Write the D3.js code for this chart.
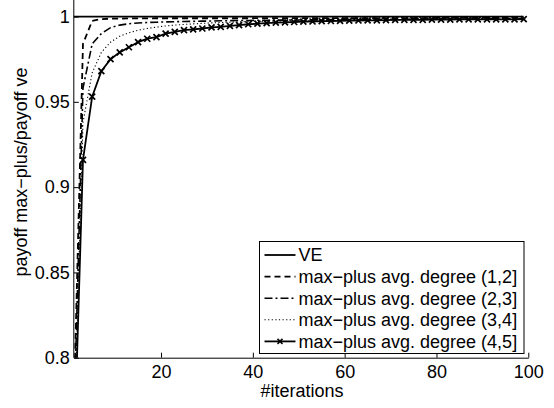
<!DOCTYPE html>
<html>
<head>
<meta charset="utf-8">
<script src="https://cdn.jsdelivr.net/npm/d3@7"></script>
<style>
  html, body { margin: 0; padding: 0; background: #fff; }
  svg { display: block; font-family: "Liberation Sans", Arial, Helvetica, sans-serif; }
</style>
</head>
<body>
<svg id="chart" width="554" height="408"></svg>
<script>
// Iterations at which each run was sampled
const iterations = [1,3,5,7,9,11,13,15,17,19,21,23,25,27,29,31,33,35,37,39,
  41,43,45,47,49,51,53,55,57,59,61,63,65,67,69,71,73,75,77,79,
  81,83,85,87,89,91,93,95,97,99];

// Payoff ratio max-plus / VE, one array per average-degree group
const veRatio = [1,1,1,1,1,1,1,1,1,1,1,1,1,1,1,1,1,1,1,1,
  1,1,1,1,1,1,1,1,1,1,1,1,1,1,1,1,1,1,1,1,
  1,1,1,1,1,1,1,1,1,1];
const degree12 = [0.770,0.984,0.9975,0.9985,0.9988,0.9988,0.9989,0.9989,0.9989,0.999,
  0.999,0.999,0.999,0.999,0.999,0.999,0.999,0.999,0.999,0.999,
  0.9991,0.9991,0.9991,0.9991,0.9991,0.9991,0.9991,0.9991,0.9991,0.9991,
  0.9991,0.9991,0.9991,0.9991,0.9991,0.9991,0.9991,0.9991,0.9991,0.9991,
  0.9992,0.9992,0.9992,0.9992,0.9992,0.9992,0.9992,0.9992,0.9992,0.9992];
const degree23 = [0.760,0.958,0.984,0.990,0.9935,0.995,0.9958,0.9962,0.9965,0.9967,
  0.9969,0.997,0.9971,0.9972,0.9973,0.9974,0.9975,0.9976,0.9977,0.9977,
  0.9978,0.9978,0.9979,0.9979,0.998,0.998,0.9981,0.9981,0.9982,0.9982,
  0.9982,0.9983,0.9983,0.9983,0.9984,0.9984,0.9984,0.9985,0.9985,0.9985,
  0.9985,0.9986,0.9986,0.9986,0.9986,0.9987,0.9987,0.9987,0.9987,0.9987];
const degree34 = [0.750,0.938,0.967,0.979,0.985,0.9885,0.9905,0.992,0.993,0.9938,
  0.9945,0.995,0.9954,0.9957,0.996,0.9963,0.9965,0.9967,0.9969,0.997,
  0.9971,0.9972,0.9973,0.9974,0.9975,0.9976,0.9977,0.9977,0.9978,0.9979,
  0.9979,0.998,0.998,0.9981,0.9981,0.9982,0.9982,0.9982,0.9983,0.9983,
  0.9983,0.9984,0.9984,0.9984,0.9984,0.9985,0.9985,0.9985,0.9985,0.9985];
const degree45 = [0.738,0.916,0.953,0.968,0.975,0.979,0.982,0.985,0.987,0.988,
  0.990,0.991,0.992,0.9925,0.993,0.9936,0.994,0.9945,0.995,0.9955,
  0.9958,0.9961,0.9964,0.9966,0.9968,0.997,0.9971,0.9973,0.9974,0.9975,
  0.9976,0.9977,0.9978,0.9978,0.9979,0.998,0.998,0.9981,0.9981,0.9982,
  0.9982,0.9982,0.9983,0.9983,0.9983,0.9984,0.9984,0.9984,0.9984,0.9985];

const seriesNames = ["VE", "max\u2212plus avg. degree (1,2]", "max\u2212plus avg. degree (2,3]",
  "max\u2212plus avg. degree (3,4]", "max\u2212plus avg. degree (4,5]"];
const xTicks = [20, 40, 60, 80, 100];
const yTicks = [0.8, 0.85, 0.9, 0.95, 1];
const yTickLabels = ["0.8", "0.85", "0.9", "0.95", "1"];

const styles = [
  { dash: null,        width: 1.8, marker: false },
  { dash: "6,4",       width: 1.8, marker: false },
  { dash: "8,3,2,3",   width: 1.6, marker: false },
  { dash: "1.2,2.4",   width: 1.1, marker: false },
  { dash: null,        width: 1.8, marker: true }
];
const seriesValues = [veRatio, degree12, degree23, degree34, degree45];

const svg = d3.select("#chart");
const plotLeft = 73.8, plotRight = 528.3, plotTop = -0.5, plotBottom = 357.7;

const x = d3.scaleLinear().domain([1, 100]).range([plotLeft, plotRight]);
const y = d3.scaleLinear().domain([0.8, 1.01]).range([plotBottom, plotTop]);

svg.append("defs").append("clipPath").attr("id", "plotClip")
  .append("rect").attr("x", plotLeft).attr("y", 0)
  .attr("width", plotRight - plotLeft).attr("height", plotBottom);

const plot = svg.append("g").attr("clip-path", "url(#plotClip)");
const line = d3.line().x((d, i) => x(iterations[i])).y(d => y(d));

// Draw from the back (slowest convergence) to the front (VE)
for (let s = seriesValues.length - 1; s >= 0; s--) {
  const st = styles[s];
  plot.append("path")
    .datum(seriesValues[s])
    .attr("d", line)
    .attr("fill", "none")
    .attr("stroke", "#000")
    .attr("stroke-width", st.width)
    .attr("stroke-dasharray", st.dash);
  if (st.marker) {
    plot.selectAll(null)
      .data(seriesValues[s])
      .enter().append("path")
      .attr("transform", (d, i) => `translate(${x(iterations[i])},${y(d)})`)
      .attr("d", "M-3,-3L3,3M-3,3L3,-3")
      .attr("stroke", "#000")
      .attr("stroke-width", 1.7);
  }
}

// Axes: MATLAB-style inward ticks, no box
const xAxis = d3.axisBottom(x).tickValues(xTicks).tickSizeInner(-5).tickSizeOuter(0).tickPadding(8);
const yAxis = d3.axisLeft(y).tickValues(yTicks).tickSizeInner(-5).tickSizeOuter(0).tickPadding(4)
  .tickFormat((d, i) => yTickLabels[i]);

const gx = svg.append("g").attr("transform", `translate(0,${plotBottom})`).call(xAxis);
const gy = svg.append("g").attr("transform", `translate(${plotLeft},0)`).call(yAxis);
[gx, gy].forEach(g => {
  g.select(".domain").attr("stroke", "#000").attr("stroke-width", 1);
  g.selectAll(".tick line").attr("stroke", "#000").attr("stroke-width", 1);
  g.selectAll(".tick text").attr("fill", "#000").attr("font-size", 18)
    .attr("font-family", "Liberation Sans, Arial, sans-serif");
});
gx.selectAll(".tick text").attr("dy", "0.71em");
gy.select(".domain").attr("d", `M0,${plotBottom}V0`);

svg.append("text")
  .attr("x", (plotLeft + plotRight) / 2 + 1).attr("y", 397)
  .attr("text-anchor", "middle").attr("font-size", 18)
  .text("#iterations");

svg.append("text")
  .attr("transform", `translate(27,172) rotate(-90)`)
  .attr("text-anchor", "middle").attr("font-size", 18)
  .text("payoff max\u2212plus/payoff ve");

// Legend
const lg = svg.append("g");
const lgX = 259.5, lgY = 241.5, lgW = 264.5, lgH = 112, rowH = 21.6;
lg.append("rect").attr("x", lgX).attr("y", lgY).attr("width", lgW).attr("height", lgH)
  .attr("fill", "#fff").attr("stroke", "#000").attr("stroke-width", 1);
seriesNames.forEach((name, i) => {
  const cy = lgY + 13.5 + i * rowH;
  const st = styles[i];
  lg.append("line")
    .attr("x1", lgX + 5).attr("x2", lgX + 36).attr("y1", cy).attr("y2", cy)
    .attr("stroke", "#000").attr("stroke-width", st.width)
    .attr("stroke-dasharray", st.dash);
  if (st.marker) {
    lg.append("path")
      .attr("transform", `translate(${lgX + 20.5},${cy})`)
      .attr("d", "M-2.5,-2.5L2.5,2.5M-2.5,2.5L2.5,-2.5")
      .attr("stroke", "#000").attr("stroke-width", 1.5);
  }
  lg.append("text")
    .attr("x", lgX + 39).attr("y", cy).attr("dy", "0.35em")
    .attr("font-size", 18)
    .text(name);
});
</script>
</body>
</html>
